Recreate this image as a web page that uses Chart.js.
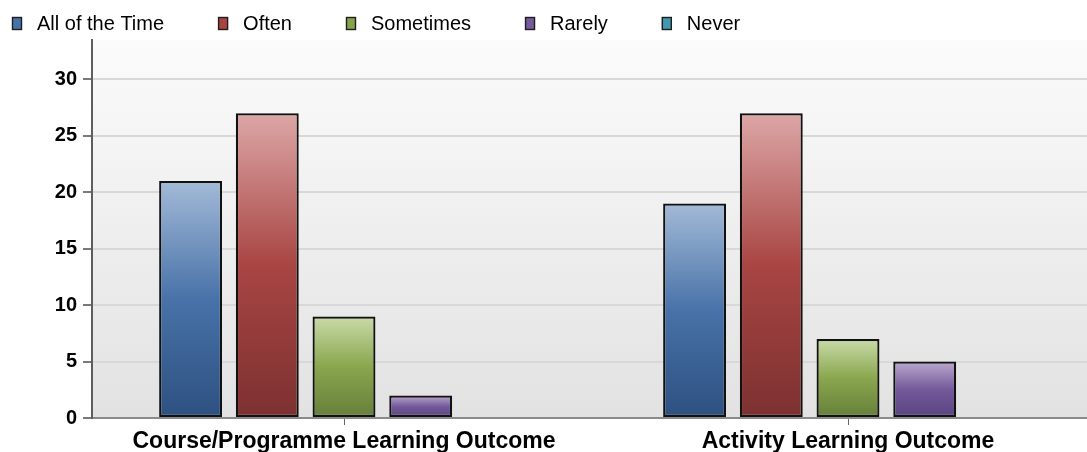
<!DOCTYPE html>
<html>
<head>
<meta charset="utf-8">
<title>Learning Outcome Frequency</title>
<script src="https://cdn.jsdelivr.net/npm/chart.js@4/dist/chart.umd.min.js"></script>
<style>
    html, body { margin: 0; padding: 0; background: #fff; overflow: hidden; }
    #wrap { width: 1100px; height: 452px; }
</style>
</head>
<body>
<div id="wrap"><canvas id="myChart" width="1100" height="452"></canvas></div>
<script>
const CATEGORIES = ['Course/Programme Learning Outcome', 'Activity Learning Outcome'];
const SERIES_NAMES = ['All of the Time', 'Often', 'Sometimes', 'Rarely', 'Never'];

const ALL_OF_THE_TIME = [21, 19];
const OFTEN = [27, 27];
const SOMETIMES = [9, 7];
const RARELY = [2, 5];
const NEVER = [0, 0];

const Y_TICKS = [0, 5, 10, 15, 20, 25, 30];

// light top, saturated middle, dark bottom - one gradient per bar
const SHADES = [
    { key: '#4672aa', stops: ['#a3bad7', '#4872a8', '#2d5080'] },
    { key: '#a94442', stops: ['#dca7a6', '#a84543', '#7b3130'] },
    { key: '#86a34a', stops: ['#c9dba9', '#89a64d', '#667e3b'] },
    { key: '#765a9c', stops: ['#bba9ce', '#73589a', '#59447f'] },
    { key: '#4298b0', stops: ['#a2cdd9', '#4aa0b8', '#2f788c'] }
];

function barGradient(shade) {
    return function(context) {
        const chart = context.chart;
        const area = chart.chartArea;
        const y = chart.scales.y;
        if (!area || !y || context.raw == null) {
            return shade.stops[1];
        }
        const top = y.getPixelForValue(context.raw);
        const bottom = y.getPixelForValue(0);
        if (bottom - top < 1) {
            return shade.stops[1];
        }
        const g = chart.ctx.createLinearGradient(0, top, 0, bottom);
        g.addColorStop(0, shade.stops[0]);
        g.addColorStop(0.5, shade.stops[1]);
        g.addColorStop(1, shade.stops[2]);
        return g;
    };
}

const seriesValues = [ALL_OF_THE_TIME, OFTEN, SOMETIMES, RARELY, NEVER];

const data = {
    labels: CATEGORIES,
    datasets: seriesValues.map((values, i) => ({
        label: SERIES_NAMES[i],
        data: values,
        backgroundColor: barGradient(SHADES[i]),
        borderColor: '#111',
        borderWidth: 2.2,
        borderSkipped: false,
        categoryPercentage: 0.761,
        barPercentage: 0.82
    }))
};

// grey fade behind the plot
const plotBackground = {
    id: 'plotBackground',
    beforeDraw(chart) {
        const { ctx, chartArea: a } = chart;
        const g = ctx.createLinearGradient(0, a.top, 0, a.bottom);
        g.addColorStop(0, '#fbfbfb');
        g.addColorStop(1, '#e2e2e2');
        ctx.save();
        ctx.fillStyle = g;
        ctx.fillRect(a.left, a.top, a.right - a.left, a.bottom - a.top);
        ctx.restore();
    }
};

// legend row along the top edge
const topLegend = {
    id: 'topLegend',
    afterDraw(chart) {
        const ctx = chart.ctx;
        ctx.save();
        ctx.font = '20px "Liberation Sans", Arial, sans-serif';
        ctx.textBaseline = 'alphabetic';
        let x = 12;
        chart.data.datasets.forEach((ds, i) => {
            ctx.fillStyle = SHADES[i].key;
            ctx.fillRect(x, 17, 10, 13);
            ctx.strokeStyle = '#1e1e1e';
            ctx.lineWidth = 1.4;
            ctx.strokeRect(x + 0.5, 17.5, 9, 12);
            ctx.fillStyle = '#000';
            ctx.fillText(ds.label, x + 25, 30);
            x += 25 + ctx.measureText(ds.label).width + 54;
        });
        ctx.restore();
    }
};

var myChart = new Chart(document.getElementById('myChart').getContext('2d'), {
    type: 'bar',
    data: data,
    plugins: [plotBackground, topLegend],
    options: {
        responsive: false,
        animation: false,
        events: [],
        layout: { padding: { top: 40, left: 0, right: 0, bottom: 0 } },
        plugins: {
            legend: { display: false },
            tooltip: { enabled: false },
            title: { display: false }
        },
        scales: {
            x: {
                afterFit(scale) { scale.height = 34; },
                grid: {
                    offset: false,
                    drawOnChartArea: false,
                    drawTicks: true,
                    tickLength: 7,
                    tickColor: '#666',
                    lineWidth: 1
                },
                border: { display: true, color: '#8a8a8a', width: 2 },
                ticks: {
                    padding: 3,
                    color: '#000',
                    maxRotation: 0,
                    font: { family: '"Liberation Sans", Arial, sans-serif', size: 23, weight: 'bold' }
                }
            },
            y: {
                min: 0,
                max: 33.5,
                afterFit(scale) { scale.width = 92; },
                afterBuildTicks(scale) {
                    scale.ticks = Y_TICKS.map(v => ({ value: v }));
                },
                grid: {
                    color: '#d8d8d8',
                    lineWidth: 2,
                    drawTicks: true,
                    tickLength: 9,
                    tickColor: '#7a7a7a'
                },
                border: { display: true, color: '#5e5e5e', width: 2 },
                ticks: {
                    padding: 6,
                    color: '#000',
                    font: { family: '"Liberation Sans", Arial, sans-serif', size: 20, weight: 'bold' }
                }
            }
        }
    }
});
</script>
</body>
</html>
